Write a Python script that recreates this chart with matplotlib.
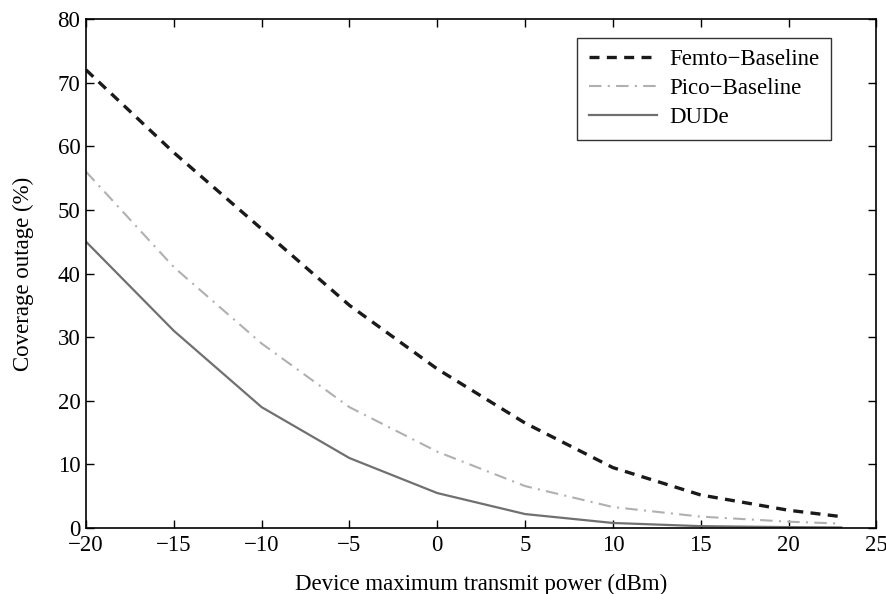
import numpy as np
import matplotlib.pyplot as plt

plt.rcParams['font.family'] = ['Liberation Serif', 'DejaVu Serif']

# transmit power (dBm)
power = [-20, -15, -10, -5, 0, 5, 10, 15, 20, 23]

# coverage outage (%)
femto = [72, 59, 47, 35, 25, 16.5, 9.5, 5.2, 2.8, 1.8]
pico = [56, 41, 29, 19, 12, 6.6, 3.3, 1.8, 1.0, 0.7]
dude = [45, 31, 19, 11, 5.5, 2.2, 0.8, 0.3, 0.15, 0.1]

fig = plt.figure(figsize=(8.87, 5.94), dpi=100)
ax = fig.add_axes([0.097, 0.111, 0.891, 0.857])

ax.plot(power, femto, color="#1a1a1a", ls=(0, (3, 2.2)), lw=2.4, label="Femto\u2212Baseline")
ax.plot(power, pico, color="#b0b0b0", ls=(0, (6, 3, 1, 3)), lw=1.5, label="Pico\u2212Baseline")
ax.plot(power, dude, color="#707070", ls="-", lw=1.6, label="DUDe")

ax.set_xlim(-20, 25)
ax.set_ylim(0, 80)
ax.set_xticks(np.arange(-20, 26, 5))
ax.set_yticks(np.arange(0, 81, 10))
ax.set_xticklabels([str(v).replace("-", "\u2212") for v in range(-20, 26, 5)])
ax.tick_params(direction="in", top=True, right=True, length=6, width=1, labelsize=16.5)
ax.tick_params(axis="x", pad=5)
ax.tick_params(axis="y", pad=4)
for s in ax.spines.values():
    s.set_linewidth(1.2)

ax.set_xlabel("Device maximum transmit power (dBm)", fontsize=16.5, labelpad=13)
ax.set_ylabel("Coverage outage (%)", fontsize=16.5, labelpad=17)

leg = ax.legend(loc="upper right", bbox_to_anchor=(0.942, 0.963), fontsize=16.5,
                frameon=True, fancybox=False, edgecolor="black", handlelength=3.0,
                borderpad=0.5, labelspacing=0.35, handletextpad=0.5, borderaxespad=0)
leg.get_frame().set_linewidth(1.0)

plt.savefig("out.png", dpi=100)
